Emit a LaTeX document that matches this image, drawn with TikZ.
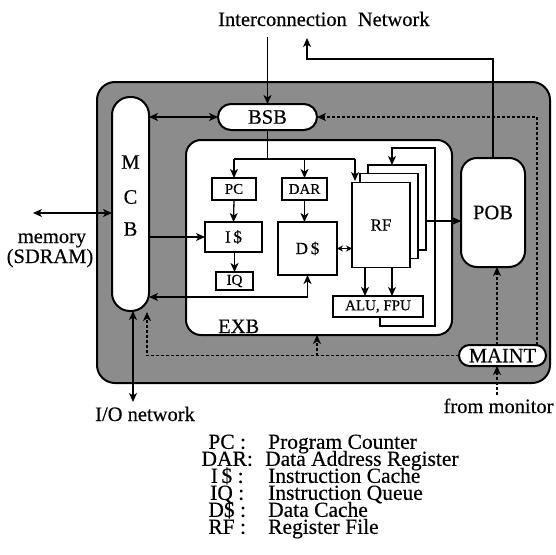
\documentclass[tikz,border=0pt]{standalone}
\usepackage{fontspec}
\setmainfont{Liberation Serif}[FakeBold=0.4]
\usetikzlibrary{arrows.meta}
\newcommand{\legrow}[3]{\makebox[48pt]{#1}\hspace{#2}#3}
\newcommand{\tightlines}{\lineskiplimit=-100pt\relax\lineskip=0pt\relax}
\begin{document}
\begin{tikzpicture}[x=1pt,y=-1pt,
  big/.style={font=\fontsize{20.5}{20.5}\selectfont},
  mid/.style={font=\fontsize{17}{17}\selectfont},
  small/.style={font=\fontsize{15}{15}\selectfont},
  frame/.style={draw, line width=2pt, fill=white, inner sep=0pt, outer sep=0pt},
  blk/.style={draw, line width=1.4pt, fill=white, inner sep=0pt, outer sep=0pt},
  conn/.style={line width=1.3pt},
  arr/.style={conn, -{Stealth[length=9pt,width=8pt,inset=2.5pt]}},
  darr/.style={conn, {Stealth[length=9pt,width=8pt,inset=2.5pt]}-{Stealth[length=9pt,width=8pt,inset=2.5pt]}},
  sdarr/.style={conn, {Stealth[length=6pt,width=6pt,inset=2pt]}-{Stealth[length=6pt,width=6pt,inset=2pt]}},
  dsh/.style={dash pattern=on 3pt off 2pt},
  txt/.style={big, inner sep=0pt, anchor=base west}
]
\useasboundingbox (0,0) rectangle (556,554);

% outer shaded board
\node[draw, line width=2pt, fill=black!45, rounded corners=18pt, inner sep=0pt, outer sep=0pt,
      minimum width=453pt, minimum height=301pt] (outer) at (323.5,232.5) {};

% main blocks
\node[frame, rounded corners=18pt, minimum width=37pt, minimum height=214pt] (mcb) at (130.5,204) {};
\node[big] (m) at (130.5,162) {M};
\node[big] (c) at (130.5,197) {C};
\node[big] (b) at (130.5,229) {B};
\node[frame, big, rounded corners=13pt, minimum width=99pt, minimum height=26pt] (bsb) at (267.5,117) {BSB};
\node[frame, rounded corners=15pt, minimum width=266pt, minimum height=195pt] (exb) at (319,237.5) {};
\node[txt] (exbl) at (218,333) {EXB};
\node[frame, big, rounded corners=16pt, minimum width=64pt, minimum height=109pt] (pob) at (493,212.5) {POB};
\node[frame, big, rounded corners=10.5pt, minimum width=87pt, minimum height=21pt] (maint) at (502.5,355.5) {MAINT};

% inner blocks
\node[blk, small, minimum width=44pt, minimum height=22pt] (pc) at (234,189) {PC};
\node[blk, small, minimum width=45pt, minimum height=22pt] (dar) at (304.5,189) {DAR};
\node[blk, mid, minimum width=57pt, minimum height=30pt] (icache) at (233.5,237) {I\,\$};
\node[blk, small, minimum width=37pt, minimum height=18pt] (iq) at (234.5,281) {IQ};
\node[blk, mid, minimum width=59pt, minimum height=53pt] (dcache) at (307.5,248.5) {D\,\$};
\node[blk, minimum width=58pt, minimum height=85pt] (rf3) at (397,207.5) {};
\node[blk, minimum width=58pt, minimum height=85pt] (rf2) at (389,216) {};
\node[blk, mid, minimum width=58pt, minimum height=85pt] (rf) at (381,225) {RF};
\node[blk, small, minimum width=90pt, minimum height=21pt] (alu) at (378,306.5) {ALU, FPU};

% outside texts
\node[txt] (icn) at (218,26) {Interconnection\hspace{11pt}Network};
\node[big, inner sep=0pt, anchor=base] (mem1) at (52,243) {memory};
\node[big, inner sep=0pt, anchor=base] (mem2) at (50,263) {(SDRAM)};
\node[txt] (iol) at (95,421) {I/O network};
\node[big, inner sep=0pt, anchor=base] (fml) at (498.5,413) {from monitor};

% coordinates
\coordinate (inA) at (267.5,37);
\coordinate (inB) at (307,38);
\coordinate (inBt) at (307,59);
\coordinate (mem) at (33,213);
\coordinate (io) at (133,402);
\coordinate (dturn) at (308,297);
\coordinate (br) at (267.5,159);
\coordinate (rfin) at (355,181);
\coordinate (a1) at (365,0);
\coordinate (a2) at (392,0);
\coordinate (fbx) at (380,326);
\coordinate (fbr) at (435,148);
\coordinate (fbt) at (392,0);
\coordinate (rp) at (0,221);
\coordinate (mx) at (537,0);
\coordinate (mp) at (497,0);
\coordinate (mon) at (497,395);
\coordinate (mcbin) at (147,312);
\coordinate (ex) at (317,355.5);

% solid connectors
\draw[arr] (inA) -- (bsb.north);
\draw[arr] (pob.north) |- (inBt) -- (inB);
\draw[darr] (mcb.east |- bsb) -- (bsb.west);
\draw[darr] (mem) -- (mem -| mcb.west);
\draw[arr] (mcb.east |- icache) -- (icache.west);
\draw[darr] (mcb.east |- dturn) -| (dcache.south);
\draw[darr] (io) -- (io |- mcb.south);
\draw[conn] (bsb.south) -- (br);
\draw[conn] (pc.north |- br) -- (rfin |- br);
\draw[arr] (pc.north |- br) -- (pc.north);
\draw[arr] (dar.north |- br) -- (dar.north);
\draw[arr] (rfin |- br) -- (rfin);
\draw[arr] (pc.south) -- (icache.north);
\draw[arr] (icache.south -| iq.north) -- (iq.north);
\draw[arr] (dar.south) -- (dar.south |- dcache.north);
\draw[sdarr] (dcache.east) -- (rf.west |- dcache.east);
\draw[arr] (rf.south -| a1) -- (alu.north -| a1);
\draw[arr] (rf.south -| a2) -- (alu.north -| a2);
\draw[arr] (alu.south -| fbx) -- (fbx) -| (fbr) -| (rf3.north -| fbt);
\draw[arr] (rf3.east |- rp) -- (pob.west |- rp);

% dashed connectors
\draw[arr, dsh] (maint.north -| mx) |- (bsb.east);
\draw[arr, dsh] (maint.north -| mp) -- (pob.south -| mp);
\draw[arr, dsh] (mon) -- (mon |- maint.south);
\draw[arr, dsh] (maint.west) -| (mcbin);
\draw[arr, dsh] (ex) -- (ex |- exb.south);

% legend
\node[anchor=north west, inner sep=0pt, align=left,
      font=\fontsize{21.5}{17}\selectfont\tightlines] (legend) at (203,434.4)
  {\legrow{PC :}{17pt}{Program Counter}\\
   \legrow{DAR:}{14pt}{Data Address Register}\\
   \legrow{I\,\$ :}{17pt}{Instruction Cache}\\
   \legrow{IQ :}{17pt}{Instruction Queue}\\
   \legrow{D\$ :}{17pt}{Data Cache}\\
   \legrow{RF :}{17pt}{Register File}};
\end{tikzpicture}
\end{document}
